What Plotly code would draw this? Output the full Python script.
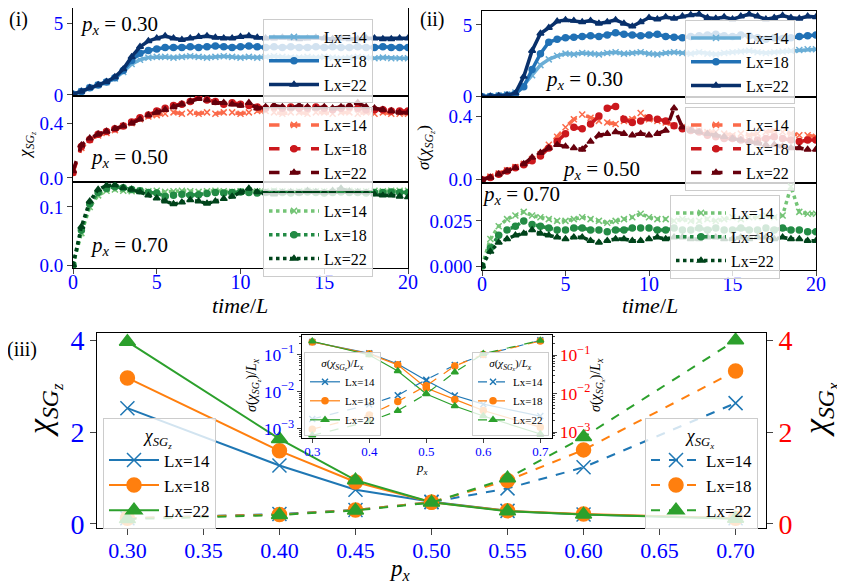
import plotly.graph_objects as go

# ---- time series (panels i and ii), sampled every 0.5 in time/L ----
TIME = [0, 0.5, 1, 1.5, 2, 2.5, 3, 3.5, 4, 4.5, 5, 5.5, 6, 6.5, 7, 7.5, 8, 8.5, 9, 9.5, 10,
        10.5, 11, 11.5, 12, 12.5, 13, 13.5, 14, 14.5, 15, 15.5, 16, 16.5, 17, 17.5, 18, 18.5,
        19, 19.5, 20]

# chi_SGz, p_x = 0.30
CHI_P30_L14 = [0.05, 0.25, 0.5, 0.7, 0.88, 1.15, 1.6, 2.15, 2.45, 2.6, 2.65, 2.65, 2.6, 2.65, 2.7,
               2.65, 2.6, 2.65, 2.7, 2.65, 2.6, 2.65, 2.6, 2.65, 2.7, 2.65, 2.6, 2.6, 2.65, 2.6,
               2.65, 2.6, 2.55, 2.6, 2.65, 2.6, 2.55, 2.6, 2.55, 2.55, 2.55]
CHI_P30_L18 = [0.05, 0.25, 0.5, 0.7, 0.9, 1.2, 1.7, 2.4, 2.9, 3.1, 3.2, 3.3, 3.3, 3.3, 3.35, 3.3,
               3.35, 3.4, 3.35, 3.3, 3.35, 3.4, 3.35, 3.3, 3.35, 3.3, 3.35, 3.3, 3.3, 3.35, 3.3,
               3.35, 3.3, 3.3, 3.35, 3.3, 3.3, 3.35, 3.3, 3.3, 3.3]
CHI_P30_L22 = [0.05, 0.25, 0.5, 0.7, 0.92, 1.25, 1.8, 2.65, 3.35, 3.75, 3.95, 4.1, 3.95, 3.85, 3.95,
               4.05, 4.1, 4.0, 3.95, 3.95, 4.05, 4.1, 4.0, 3.95, 3.95, 4.0, 3.95, 3.9, 3.95, 4.0,
               3.95, 3.9, 3.95, 3.9, 3.9, 3.95, 3.95, 3.9, 3.9, 3.95, 3.95]

# chi_SGz, p_x = 0.50
CHI_P50_L14 = [0.04, 0.22, 0.28, 0.31, 0.33, 0.35, 0.38, 0.4, 0.43, 0.45, 0.46, 0.47, 0.48, 0.47,
               0.48, 0.47, 0.48, 0.47, 0.48, 0.48, 0.47, 0.48, 0.49, 0.49, 0.48, 0.47, 0.48, 0.48,
               0.47, 0.48, 0.48, 0.47, 0.48, 0.48, 0.47, 0.48, 0.47, 0.48, 0.47, 0.47, 0.47]
CHI_P50_L18 = [0.04, 0.23, 0.28, 0.32, 0.34, 0.36, 0.38, 0.41, 0.44, 0.46, 0.49, 0.51, 0.53, 0.54,
               0.56, 0.59, 0.57, 0.56, 0.54, 0.55, 0.54, 0.53, 0.52, 0.51, 0.52, 0.51, 0.52, 0.51,
               0.51, 0.52, 0.51, 0.5, 0.51, 0.52, 0.51, 0.5, 0.5, 0.5, 0.49, 0.49, 0.49]
CHI_P50_L22 = [0.05, 0.24, 0.29, 0.32, 0.34, 0.36, 0.38, 0.4, 0.43, 0.46, 0.48, 0.5, 0.52, 0.54,
               0.56, 0.58, 0.57, 0.55, 0.55, 0.54, 0.53, 0.55, 0.51, 0.52, 0.53, 0.52, 0.51, 0.53,
               0.52, 0.51, 0.52, 0.51, 0.52, 0.53, 0.55, 0.52, 0.51, 0.5, 0.49, 0.48, 0.48]

# chi_SGz, p_x = 0.70
CHI_P70_L14 = [0.0, 0.055, 0.1, 0.12, 0.128, 0.13, 0.128, 0.127, 0.128, 0.127, 0.128, 0.126, 0.127,
               0.128, 0.127, 0.126, 0.127, 0.128, 0.127, 0.126, 0.127, 0.128, 0.127, 0.127, 0.128,
               0.127, 0.126, 0.127, 0.128, 0.127, 0.127, 0.126, 0.127, 0.128, 0.127, 0.127, 0.128,
               0.127, 0.128, 0.128, 0.128]
CHI_P70_L18 = [0.0, 0.06, 0.105, 0.125, 0.132, 0.135, 0.133, 0.13, 0.128, 0.125, 0.124, 0.118,
               0.12, 0.122, 0.12, 0.121, 0.123, 0.125, 0.124, 0.125, 0.126, 0.125, 0.124, 0.125,
               0.126, 0.125, 0.124, 0.125, 0.126, 0.125, 0.124, 0.125, 0.126, 0.125, 0.125, 0.124,
               0.125, 0.125, 0.126, 0.125, 0.125]
CHI_P70_L22 = [0.0, 0.066, 0.11, 0.13, 0.137, 0.138, 0.133, 0.13, 0.126, 0.12, 0.115, 0.11, 0.105,
               0.108, 0.112, 0.11, 0.106, 0.11, 0.114, 0.118, 0.125, 0.132, 0.126, 0.124, 0.122,
               0.125, 0.126, 0.124, 0.128, 0.126, 0.125, 0.128, 0.132, 0.127, 0.126, 0.125, 0.122,
               0.12, 0.12, 0.118, 0.117]

# sigma(chi_SGz), p_x = 0.30
SIG_P30_L14 = [0.0, 0.03, 0.08, 0.15, 0.3, 0.8, 1.5, 2.2, 2.6, 2.85, 3.0, 2.95, 3.05, 3.0, 2.95,
               3.05, 3.1, 3.0, 3.05, 3.1, 3.0, 2.95, 3.05, 3.1, 3.05, 3.0, 3.1, 3.0, 2.95, 3.05,
               3.1, 3.15, 3.2, 3.1, 3.05, 3.1, 3.15, 3.2, 3.25, 3.3, 3.3]
SIG_P30_L18 = [0.0, 0.02, 0.05, 0.1, 0.2, 0.7, 1.9, 3.0, 3.8, 4.0, 4.1, 4.15, 4.2, 4.25, 4.2, 4.3,
               4.45, 4.35, 4.3, 4.25, 4.3, 4.35, 4.2, 4.15, 4.1, 4.2, 4.25, 4.3, 4.35, 4.25, 4.2,
               4.3, 4.25, 4.1, 4.0, 4.1, 4.05, 4.1, 4.2, 4.25, 4.3]
SIG_P30_L22 = [0.0, 0.02, 0.05, 0.1, 0.25, 1.4, 3.2, 4.4, 4.8, 5.25, 5.35, 5.3, 5.2, 5.3, 5.1, 5.2,
               5.35, 5.1, 4.9, 5.2, 5.5, 5.4, 5.55, 5.45, 5.6, 5.7, 5.75, 5.5, 5.45, 5.55, 5.4,
               5.6, 5.75, 5.6, 5.4, 5.5, 5.65, 5.5, 5.45, 5.6, 5.55]

# sigma(chi_SGz), p_x = 0.50
SIG_P50_L14 = [0.0, 0.02, 0.04, 0.06, 0.08, 0.1, 0.13, 0.16, 0.22, 0.27, 0.33, 0.38, 0.41, 0.39,
               0.37, 0.36, 0.35, 0.37, 0.38, 0.42, 0.38, 0.37, 0.36, 0.34, 0.33, 0.32, 0.31, 0.3,
               0.3, 0.29, 0.28, 0.29, 0.28, 0.29, 0.3, 0.31, 0.3, 0.29, 0.28, 0.28, 0.27]
SIG_P50_L18 = [0.0, 0.015, 0.035, 0.055, 0.075, 0.095, 0.12, 0.15, 0.2, 0.24, 0.29, 0.33, 0.32,
               0.35, 0.4, 0.45, 0.46, 0.38, 0.36, 0.37, 0.39, 0.38, 0.37, 0.34, 0.32, 0.31, 0.3,
               0.28, 0.27, 0.26, 0.26, 0.25, 0.24, 0.25, 0.26, 0.27, 0.26, 0.25, 0.24, 0.25, 0.25]
SIG_P50_L22 = [0.0, 0.015, 0.035, 0.055, 0.075, 0.1, 0.14, 0.17, 0.2, 0.22, 0.21, 0.2, 0.19, 0.24,
               0.28, 0.29, 0.3, 0.29, 0.28, 0.29, 0.28, 0.29, 0.31, 0.45, 0.33, 0.31, 0.3, 0.29,
               0.28, 0.27, 0.26, 0.25, 0.24, 0.23, 0.22, 0.22, 0.21, 0.2, 0.2, 0.19, 0.19]

# sigma(chi_SGz), p_x = 0.70
SIG_P70_L14 = [0.0, 0.015, 0.022, 0.026, 0.028, 0.03, 0.028, 0.027, 0.026, 0.025, 0.025, 0.026,
               0.027, 0.026, 0.025, 0.024, 0.025, 0.026, 0.027, 0.029, 0.027, 0.026, 0.026, 0.025,
               0.026, 0.025, 0.025, 0.026, 0.025, 0.026, 0.027, 0.026, 0.027, 0.027, 0.028, 0.027,
               0.028, 0.044, 0.03, 0.029, 0.029]
SIG_P70_L18 = [0.0, 0.01, 0.017, 0.02, 0.022, 0.025, 0.023, 0.022, 0.021, 0.02, 0.02, 0.021, 0.021,
               0.02, 0.02, 0.019, 0.02, 0.02, 0.021, 0.021, 0.021, 0.02, 0.02, 0.021, 0.02, 0.02,
               0.021, 0.02, 0.021, 0.02, 0.02, 0.021, 0.02, 0.02, 0.021, 0.02, 0.021, 0.02, 0.02,
               0.019, 0.019]
SIG_P70_L22 = [0.0, 0.008, 0.013, 0.015, 0.017, 0.018, 0.02, 0.018, 0.017, 0.016, 0.015, 0.016,
               0.016, 0.014, 0.013, 0.014, 0.015, 0.015, 0.014, 0.014, 0.015, 0.016, 0.015, 0.016,
               0.016, 0.015, 0.015, 0.016, 0.016, 0.015, 0.015, 0.016, 0.015, 0.016, 0.016, 0.015,
               0.016, 0.015, 0.015, 0.014, 0.014]

# ---- panel iii ----
P_X = [0.30, 0.40, 0.45, 0.50, 0.55, 0.60, 0.70]
CHI_Z_14 = [2.52, 1.27, 0.74, 0.48, 0.28, 0.20, 0.12]
CHI_Z_18 = [3.18, 1.59, 0.91, 0.47, 0.28, 0.21, 0.12]
CHI_Z_22 = [3.97, 1.85, 0.95, 0.47, 0.27, 0.20, 0.11]
CHI_X_14 = [0.12, 0.21, 0.30, 0.47, 0.77, 1.23, 2.63]
CHI_X_18 = [0.12, 0.20, 0.30, 0.47, 0.94, 1.61, 3.33]
CHI_X_22 = [0.10, 0.19, 0.29, 0.46, 0.99, 1.89, 4.00]

# inset: sigma / Lx
SIGZ_14 = [0.22, 0.108, 0.056, 0.020, 0.0079, 0.0046, 0.0022]
SIGZ_18 = [0.22, 0.105, 0.053, 0.0126, 0.0062, 0.0031, 0.0011]
SIGZ_22 = [0.23, 0.098, 0.036, 0.0087, 0.0041, 0.0022, 0.00072]
SIGX_14 = [0.0022, 0.0052, 0.0091, 0.023, 0.055, 0.10, 0.24]
SIGX_18 = [0.0012, 0.0028, 0.0063, 0.016, 0.052, 0.104, 0.23]
SIGX_22 = [0.00083, 0.0019, 0.0036, 0.0099, 0.036, 0.108, 0.24]

SIZES = ["Lx=14", "Lx=18", "Lx=22"]

W, H = 845, 586
OFF = 8  # page body margin, everything is placed relative to it
FONT = "Liberation Serif, Times New Roman, DejaVu Serif, serif"
BLUE = "#0000ff"
RED = "#ff0000"
TAB = ["#1f77b4", "#ff7f0e", "#2ca02c"]
SYMBOLS = ["x-thin", "circle", "triangle-up"]

CHI_Z_TXT = "<i>χ</i><sub><i>SG</i><sub><i>z</i></sub></sub>"
CHI_X_TXT = "<i>χ</i><sub><i>SG</i><sub><i>x</i></sub></sub>"


def fx(px):
    return min(max((px - OFF) / W, 0), 1)


def fy(py):
    return min(max(1 - (py - OFF) / H, 0), 1)


def marker(sym, color, size):
    return dict(symbol=sym, size=size, color=color, line=dict(width=1.5, color=color))


fig = go.Figure()

# (series, colours, dash, axis suffix, legend id)
top_panels = [
    ([CHI_P30_L14, CHI_P30_L18, CHI_P30_L22], ["#6aaed6", "#2171b5", "#08306b"], "solid", "", "legend"),
    ([CHI_P50_L14, CHI_P50_L18, CHI_P50_L22], ["#fb6a4a", "#cb181d", "#67000d"], "dash", "2", "legend2"),
    ([CHI_P70_L14, CHI_P70_L18, CHI_P70_L22], ["#74c476", "#238b45", "#00441b"], "dot", "3", "legend3"),
    ([SIG_P30_L14, SIG_P30_L18, SIG_P30_L22], ["#6aaed6", "#2171b5", "#08306b"], "solid", "4", "legend4"),
    ([SIG_P50_L14, SIG_P50_L18, SIG_P50_L22], ["#fb6a4a", "#cb181d", "#67000d"], "dash", "5", "legend5"),
    ([SIG_P70_L14, SIG_P70_L18, SIG_P70_L22], ["#74c476", "#238b45", "#00441b"], "dot", "6", "legend6"),
]

for series, colors, dash, ax, leg in top_panels:
    for vals, col, sym, name in zip(series, colors, SYMBOLS, SIZES):
        fig.add_trace(go.Scatter(
            x=TIME, y=vals, name=name, mode="lines+markers",
            line=dict(color=col, width=3.5, dash=dash),
            marker=marker(sym, col, 6),
            xaxis="x" + ax, yaxis="y" + ax, legend=leg,
        ))

# panel iii main curves
for vals, col, sym, name in zip([CHI_Z_14, CHI_Z_18, CHI_Z_22], TAB, SYMBOLS, SIZES):
    fig.add_trace(go.Scatter(
        x=P_X, y=vals, name=name, mode="lines+markers",
        line=dict(color=col, width=2), marker=marker(sym, col, 14),
        xaxis="x7", yaxis="y7", legend="legend7",
    ))
for vals, col, sym, name in zip([CHI_X_14, CHI_X_18, CHI_X_22], TAB, SYMBOLS, SIZES):
    fig.add_trace(go.Scatter(
        x=P_X, y=vals, name=name, mode="lines+markers",
        line=dict(color=col, width=2, dash="dash"), marker=marker(sym, col, 14),
        xaxis="x7", yaxis="y8", legend="legend8",
    ))

# inset
for vals, col, sym, name in zip([SIGZ_14, SIGZ_18, SIGZ_22], TAB, SYMBOLS, SIZES):
    fig.add_trace(go.Scatter(
        x=P_X, y=vals, name=name, mode="lines+markers",
        line=dict(color=col, width=1.2), marker=marker(sym, col, 6),
        xaxis="x8", yaxis="y9", legend="legend9",
    ))
for vals, col, sym, name in zip([SIGX_14, SIGX_18, SIGX_22], TAB, SYMBOLS, SIZES):
    fig.add_trace(go.Scatter(
        x=P_X, y=vals, name=name, mode="lines+markers",
        line=dict(color=col, width=1.2, dash="dash"), marker=marker(sym, col, 6),
        xaxis="x8", yaxis="y10", legend="legend10",
    ))

frame = dict(showline=True, linecolor="black", linewidth=1, mirror=True,
             showgrid=False, zeroline=False)

# top panel geometry in pixels: (left, right, top, bottom)
LEFT_COL = (73, 408)
RIGHT_COL = (482, 816)
LEFT_ROWS = [(8, 96), (96, 182), (182, 268)]
RIGHT_ROWS = [(11, 97), (97, 183), (183, 270)]
Y_RANGES = [[-0.07, 6.05], [-0.03, 0.6], [-0.005, 0.143],
            [-0.02, 5.97], [-0.02, 0.52], [-0.0022, 0.046]]
Y_TICKS = [[0, 5], [0.0, 0.4], [0.0, 0.1], [0, 5], [0.0, 0.4], [0.0, 0.025]]
Y_FMT = ["d", ".1f", ".1f", "d", ".1f", ".3f"]

layout = dict(
    width=W, height=H, margin=dict(l=0, r=0, t=0, b=0, autoexpand=False),
    paper_bgcolor="white", plot_bgcolor="white",
    font=dict(family=FONT, color="black", size=16),
    showlegend=True,
)

for i in range(6):
    ax = "" if i == 0 else str(i + 1)
    col = LEFT_COL if i < 3 else RIGHT_COL
    row = (LEFT_ROWS if i < 3 else RIGHT_ROWS)[i % 3]
    is_bottom = i % 3 == 2
    layout["xaxis" + ax] = dict(
        frame, domain=[fx(col[0]), fx(col[1])], range=[0, 20],
        anchor="y" + ax, tickvals=[0, 5, 10, 15, 20],
        showticklabels=is_bottom, ticks="outside" if is_bottom else "",
        ticklen=5, ticklabelstandoff=-9, tickfont=dict(family=FONT, color=BLUE, size=20),
    )
    layout["yaxis" + ax] = dict(
        frame, domain=[fy(row[1]), fy(row[0])], range=Y_RANGES[i],
        anchor="x" + ax, tickvals=Y_TICKS[i], tickformat=Y_FMT[i],
        ticks="outside", ticklen=5, tickfont=dict(family=FONT, color=BLUE, size=19),
    )

# legends of the time panels: (left px, top px)
top_leg_pos = [(263, 19), (263, 107), (263, 193), (685, 20), (685, 107), (670, 195)]
for i, (lx, ly) in enumerate(top_leg_pos):
    key = "legend" if i == 0 else "legend%d" % (i + 1)
    layout[key] = dict(
        x=fx(lx), y=fy(ly), xanchor="left", yanchor="top",
        bgcolor="rgba(255,255,255,0.8)", bordercolor="#cccccc", borderwidth=1,
        font=dict(family=FONT, size=16), tracegroupgap=0, itemwidth=50,
    )

# panel iii axes
layout["xaxis7"] = dict(
    frame, domain=[fx(97), fx(766)], range=[0.28, 0.72], anchor="y7",
    tickvals=[0.30, 0.35, 0.40, 0.45, 0.50, 0.55, 0.60, 0.65, 0.70], tickformat=".2f",
    ticks="outside", ticklen=6, ticklabelstandoff=-3,
    tickfont=dict(family=FONT, color=BLUE, size=22),
)
layout["yaxis7"] = dict(
    frame, domain=[fy(528), fy(333)], range=[-0.094, 4.16], anchor="x7",
    tickvals=[0, 2, 4], ticks="outside", ticklen=6,
    tickfont=dict(family=FONT, color=BLUE, size=28),
)
layout["yaxis8"] = dict(
    showgrid=False, zeroline=False, overlaying="y7", side="right", anchor="x7",
    range=[-0.094, 4.16], tickvals=[0, 2, 4], ticks="outside", ticklen=6,
    tickfont=dict(family=FONT, color=RED, size=28),
)

# inset axes
log_minor = dict(ticks="outside", ticklen=2, dtick="D1", showgrid=False)
layout["xaxis8"] = dict(
    frame, domain=[fx(302), fx(552)], range=[0.282, 0.7205], anchor="y9",
    tickvals=[0.3, 0.4, 0.5, 0.6, 0.7], ticks="outside", ticklen=4, ticklabelstandoff=-3,
    tickfont=dict(family=FONT, color=BLUE, size=13),
)
layout["yaxis9"] = dict(
    frame, domain=[fy(438), fy(335)], type="log", range=[-3.25, -0.47], anchor="x8",
    tickmode="linear", tick0=0, dtick=1, exponentformat="power", ticks="outside",
    ticklen=4, minor=log_minor, tickfont=dict(family=FONT, color=BLUE, size=14),
)
layout["yaxis10"] = dict(
    showgrid=False, zeroline=False, overlaying="y9", side="right", anchor="x8",
    type="log", range=[-3.15, -0.48], tickmode="linear", tick0=0, dtick=1,
    exponentformat="power", ticks="outside", ticklen=4, minor=log_minor,
    tickfont=dict(family=FONT, color=RED, size=14),
)

main_leg = dict(
    bgcolor="rgba(255,255,255,0.8)", bordercolor="#cccccc", borderwidth=1,
    font=dict(family=FONT, size=17), tracegroupgap=0, itemwidth=50, yanchor="top",
)
layout["legend7"] = dict(main_leg, x=fx(103), y=fy(418), xanchor="left",
                         title=dict(text=CHI_Z_TXT, side="top center",
                                    font=dict(family=FONT, size=18)))
layout["legend8"] = dict(main_leg, x=fx(758), y=fy(418), xanchor="right",
                         title=dict(text=CHI_X_TXT, side="top center",
                                    font=dict(family=FONT, size=18)))

inset_leg = dict(
    bgcolor="rgba(255,255,255,0.8)", bordercolor="#cccccc", borderwidth=1,
    font=dict(family=FONT, size=11), tracegroupgap=0, itemwidth=30, yanchor="top",
)
layout["legend9"] = dict(
    inset_leg, x=fx(304), y=fy(352), xanchor="left",
    title=dict(text="<i>σ</i>(" + CHI_Z_TXT + ")/<i>L<sub>x</sub></i>", side="top center",
               font=dict(family=FONT, size=11)))
layout["legend10"] = dict(
    inset_leg, x=fx(549), y=fy(352), xanchor="right",
    title=dict(text="<i>σ</i>(" + CHI_X_TXT + ")/<i>L<sub>x</sub></i>", side="top center",
               font=dict(family=FONT, size=11)))

fig.update_layout(**layout)


def label(text, px, py, size, angle=0, xanchor="center"):
    fig.add_annotation(text=text, x=fx(px), y=fy(py), xref="paper", yref="paper",
                       showarrow=False, textangle=angle, xanchor=xanchor, yanchor="middle",
                       font=dict(family=FONT, size=size, color="black"))


px_txt = "<i>p<sub>x</sub></i> = %s"
label("(i)", 18, 20, 20)
label("(ii)", 432, 20, 20)
label("(iii)", 22, 349, 20)
label(px_txt % "0.30", 78, 25, 21, xanchor="left")
label(px_txt % "0.50", 88, 158, 21, xanchor="left")
label(px_txt % "0.70", 88, 246, 21, xanchor="left")
label(px_txt % "0.30", 543, 80, 21, xanchor="left")
label(px_txt % "0.50", 560, 170, 21, xanchor="left")
label(px_txt % "0.70", 480, 195, 21, xanchor="left")
label(CHI_Z_TXT, 26, 145, 17, angle=-90)
label("<i>σ</i>(" + CHI_Z_TXT + ")", 425, 148, 17, angle=-90)
label("<i>time</i>/<i>L</i>", 240, 305, 22)
label("<i>time</i>/<i>L</i>", 650, 305, 22)
label(CHI_Z_TXT, 44, 410, 34, angle=-90)
label(CHI_X_TXT, 820, 410, 34, angle=-90)
label("<i>p<sub>x</sub></i>", 400, 570, 23)
label("<i>σ</i>(" + CHI_Z_TXT + ")/<i>L<sub>x</sub></i>", 253, 385, 14, angle=-90)
label("<i>σ</i>(" + CHI_X_TXT + ")/<i>L<sub>x</sub></i>", 597, 385, 14, angle=-90)
label("<i>p<sub>x</sub></i>", 422, 468, 13)

fig.write_html("out.html")
